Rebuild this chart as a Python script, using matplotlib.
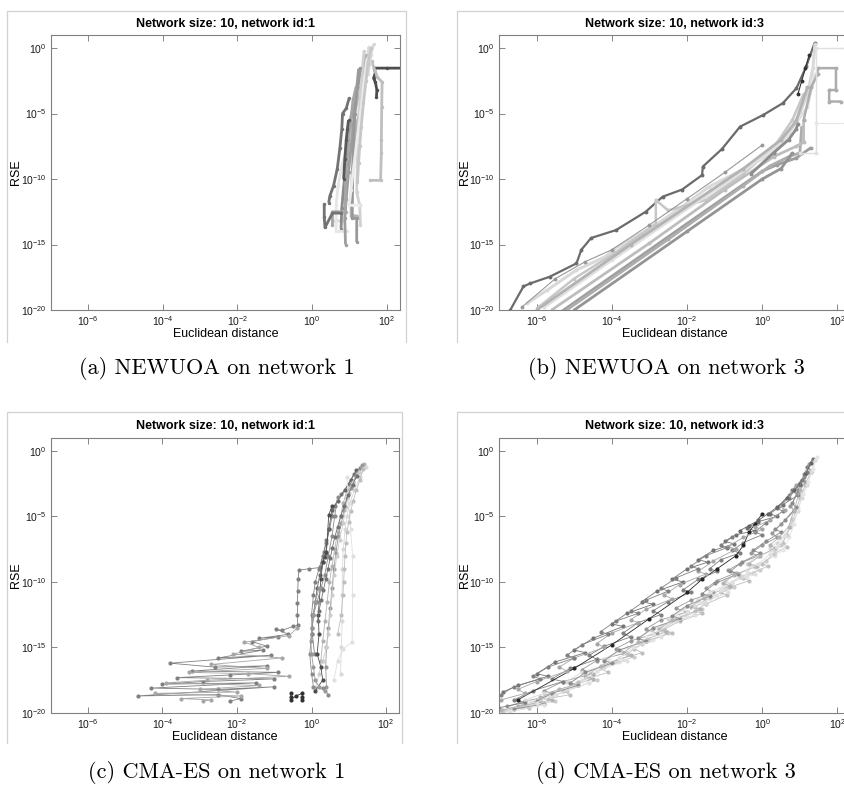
import numpy as np
import matplotlib.pyplot as plt
from matplotlib.lines import Line2D

plt.rcParams['font.family'] = ['Liberation Sans', 'DejaVu Sans']
plt.rcParams['mathtext.fontset'] = 'custom'
plt.rcParams['mathtext.rm'] = 'Liberation Sans'
plt.rcParams['mathtext.it'] = 'Liberation Sans:italic'
plt.rcParams['mathtext.bf'] = 'Liberation Sans:bold'

# axis ticks
x_ticks = [1e-6, 1e-4, 1e-2, 1e0, 1e2]
y_ticks = [1e-20, 1e-15, 1e-10, 1e-5, 1e0]

titles = ['Network size: 10, network id:1', 'Network size: 10, network id:3',
          'Network size: 10, network id:1', 'Network size: 10, network id:3']
captions = ['(a) NEWUOA on network 1', '(b) NEWUOA on network 3',
            '(c) CMA-ES on network 1', '(d) CMA-ES on network 3']

# trajectories as log10(distance), log10(RSE)
newuoa1_lx = [
    [2.45, 2.00, 1.67, 1.70, 1.65, 1.70, 1.74, 1.73],
    [1.60, 1.75, 1.88, 1.87, 1.86, 1.86, 1.84, 1.55],
    [1.52, 1.50, 1.40, 1.25, 1.12, 1.00, 0.92, 0.85, 0.80, 0.60],
    [1.35, 1.28, 1.15, 1.05, 1.00, 0.92, 0.85, 0.80, 0.78],
    [1.00, 0.92, 0.82, 0.80, 0.75, 0.68, 0.58, 0.48, 0.45],
    [1.45, 1.40, 1.30, 1.22, 1.15, 1.08, 1.05, 1.05, 1.20],
    [1.55, 1.45, 1.25, 1.10, 0.95, 0.80, 0.70, 0.65, 0.65, 0.95],
    [1.25, 1.20, 1.12, 1.05, 0.98, 0.92, 0.88, 0.90],
    [1.18, 1.10, 1.02, 0.95, 0.90, 0.90, 0.70, 0.55, 0.55],
    [0.33, 0.33, 0.35, 0.55, 0.78],
    [1.40, 1.35, 1.30, 1.25, 1.22, 1.20, 1.28, 1.30],
    [1.30, 1.22, 1.15, 1.10, 1.08, 1.20, 1.20],
    [0.98, 0.95, 0.92, 0.88, 0.85],
    [1.65, 1.58, 1.55, 1.50],
    [1.48, 1.42, 1.35, 1.28, 1.20, 1.12, 1.05, 1.00, 1.10, 1.25],
    [1.58, 1.50, 1.45, 1.38, 1.32, 1.28, 1.25, 1.22],
]
newuoa1_ly = [
    [-1.53, -1.53, -1.53, -1.90, -2.30, -2.60, -3.20, -3.70],
    [-1.00, -2.20, -2.60, -4.50, -7.00, -8.00, -10.10, -10.10],
    [0.10, -1.00, -2.00, -4.00, -6.00, -8.20, -10.00, -11.50, -13.20, -13.20],
    [-1.60, -2.20, -4.00, -5.20, -6.80, -8.80, -10.60, -12.20, -13.80],
    [-3.80, -4.60, -5.00, -6.20, -7.60, -9.20, -10.50, -11.30, -11.80],
    [-0.50, -1.30, -3.00, -5.00, -7.00, -9.50, -11.50, -12.80, -12.80],
    [-0.20, -2.00, -4.50, -6.00, -7.50, -9.00, -10.50, -12.00, -14.00, -14.00],
    [-1.60, -3.00, -5.50, -7.50, -9.50, -11.50, -13.00, -15.00],
    [-3.00, -4.00, -6.00, -8.00, -10.00, -12.50, -12.50, -12.50, -13.50],
    [-11.90, -12.90, -13.70, -12.60, -12.60],
    [-0.20, -1.50, -3.50, -6.00, -8.50, -11.00, -12.00, -13.50],
    [-1.50, -3.00, -5.00, -8.00, -13.00, -13.00, -14.80],
    [-5.50, -6.20, -7.00, -8.50, -10.00],
    [0.30, -0.50, -1.20, -2.00],
    [-0.80, -2.00, -3.80, -5.50, -7.20, -9.00, -10.80, -12.00, -12.00, -12.00],
    [0.00, -1.20, -2.50, -4.20, -6.00, -7.50, -8.80, -10.20],
]
newuoa1_gray = [0.30, 0.75, 0.85, 0.55, 0.45, 0.70, 0.90, 0.62, 0.65, 0.45, 0.82, 0.60, 0.35, 0.85, 0.92, 0.78]

newuoa3_lx = [
    [-6.70, -6.35, -6.17, -5.65, -4.94, -4.81, -4.55, -3.89, -3.10, -2.65, -2.13, -1.60, -1.58, -1.07, -0.59, 0.03, 0.55, 0.91, 1.17, 1.39],
    [-6.26, -5.73, -4.94, -4.15, -3.97, -2.83, -2.13, -1.42, -0.37, 0.33, 0.70, 1.00, 1.20, 1.35, 1.40],
    [-6.00, -5.00, -4.00, -3.20, -2.83, -2.83, -2.50, -1.50, -0.50, 0.30, 0.80, 1.10],
    [-5.38, -2.00, 0.00, 0.40, 0.90, 1.30],
    [-5.20, -2.50, -0.50, 0.20, 0.70, 1.00, 1.05],
    [-5.60, -3.00, -1.00, 0.30, 0.90, 1.10, 1.10],
    [-5.00, -2.00, 0.00, 0.50, 0.80],
    [-5.80, -4.00, -1.50, 0.00, 0.60, 1.20, 1.40],
    [-6.00, -3.50, -0.50, 0.50, 0.90, 1.20],
    [1.10, 1.30, 1.47, 1.47, 1.96, 1.96, 1.78, 1.78, 2.10],
    [2.20, 1.43, 1.43, 1.00],
    [1.43, 2.20],
    [0.95, 1.05, 1.15, 1.25],
    [-6.40, -5.50, -4.70, -4.00, -3.00, -2.00, -1.00, 0.00],
    [-0.30, 0.30, 0.70, 0.90, 0.95],
]
newuoa3_ly = [
    [-20.0, -18.2, -17.97, -17.46, -16.44, -15.4, -14.5, -13.9, -12.5, -11.35, -10.8, -9.7, -9.05, -7.7, -6.0, -5.1, -4.2, -3.06, -1.4, 0.38],
    [-19.5, -18.5, -16.95, -15.9, -15.4, -13.5, -12.1, -10.6, -9.05, -7.9, -6.5, -5.0, -3.5, -1.5, 0.3],
    [-19.9, -17.6, -15.8, -14.2, -13.4, -11.6, -12.4, -11.6, -9.6, -7.6, -5.5, -3.5],
    [-20.2, -13.4, -9.4, -8.9, -8.4, -7.6],
    [-20.0, -14.6, -10.5, -9.0, -8.3, -8.0, -6.0],
    [-20.0, -14.9, -10.8, -8.3, -7.5, -7.2, -5.5],
    [-20.0, -14.0, -10.0, -9.2, -8.0],
    [-19.8, -16.2, -11.3, -8.4, -7.0, -4.5, -2.0],
    [-20.0, -15.0, -9.2, -7.0, -5.6, -3.0],
    [-5.5, -3.0, -2.0, -1.53, -1.53, -3.2, -3.2, -4.08, -4.08],
    [0.0, 0.0, -8.0, -8.0],
    [-5.7, -5.7],
    [-3.5, -2.5, -1.5, -0.5],
    [-19.8, -17.6, -16.3, -15.4, -13.5, -11.5, -9.5, -7.4],
    [-9.6, -8.0, -7.0, -6.2, -5.8],
]
newuoa3_gray = [0.42, 0.85, 0.78, 0.62, 0.68, 0.74, 0.58, 0.88, 0.70, 0.68, 0.88, 0.90, 0.20, 0.60, 0.55]
newuoa3_lw = [1.6, 2.2, 1.8, 2.0, 2.0, 2.0, 2.0, 2.0, 2.0, 1.8, 1.0, 0.8, 0.8, 0.8, 2.0]

cma1_lx = [
    [0.40, 0.33, 0.24, -0.07, -0.34, -0.36, -0.37, -0.38, -0.38, -0.37, -0.50, -0.80, -0.95, -0.62, -1.40, -0.90, -1.60, -1.20, -1.90, -1.30,
     -2.50, -1.10, -3.80, -2.60, -1.20, -3.20, -0.90, -2.20, -3.60, -1.00, -2.90, -4.00, -1.50, -4.30, -2.50, -1.00, -4.67, -2.50, -1.90, -2.20],
    [-0.38, -0.60, -1.80, -1.40, -2.10, -0.80, -2.70, -1.20, -3.30, -1.70, -0.60, -2.80, -3.90, -1.40, -3.00, -2.00, -4.20, -1.90, -3.50, -2.70, -2.90],
    [1.30, 1.15, 1.00, 0.80, 0.62, 0.55, 0.48, 0.40, 0.30, 0.20, 0.10, 0.05, 0.00, 0.02, 0.08],
    [1.40, 1.25, 1.10, 0.95, 0.85, 0.78, 0.70, 0.62, 0.55, 0.48, 0.42, 0.36, 0.30, 0.25],
    [1.45, 1.30, 1.15, 1.02, 0.95, 0.90, 0.85, 0.83, 0.82, 0.82, 0.80, 0.78],
    [1.20, 1.05, 0.90, 0.70, 0.55, 0.46, 0.38, 0.30, 0.22, 0.15, 0.10, 0.05, 0.02],
    [1.35, 1.20, 1.05, 0.95, 0.88, 0.80, 0.72, 0.65, 0.60, 0.55, 0.50, 0.45, 0.40, 0.38, 0.40],
    [1.28, 1.12, 1.00, 0.92, 0.85, 0.75, 0.68, 0.60, 0.55, 0.50, 0.45, 0.40, 0.30, 0.20, 0.10],
    [0.55, 0.46, 0.40, 0.35, 0.30, 0.25, 0.18, 0.20, 0.15, 0.25, 0.30, 0.10],
    [0.70, 0.62, 0.55, 0.45, 0.35, 0.25, 0.15, 0.05, 0.00, -0.05, 0.00, 0.05, 0.30, 0.45],
    [0.95, 1.00, 1.05, 1.10, 1.10, 1.09, 0.85, 0.70, 0.60],
    [-0.56, -0.56, -0.56, -0.42, -0.25, -0.25, -0.25],
    [1.22, 1.10, 0.98, 0.88, 0.78, 0.70, 0.62, 0.56, 0.50, 0.44, 0.38, 0.32, 0.26, 0.20, 0.16],
    [1.38, 1.30, 1.20, 1.12, 1.05, 1.00, 0.95, 0.92, 0.90, 0.88, 0.86, 0.84, 0.80, 0.70],
    [0.20, 0.10, 0.05, 0.00, -0.02, 0.00, 0.05, 0.10, 0.20, 0.35],
]
cma1_ly = [
    [-6.8, -7.7, -8.9, -9.0, -9.1, -9.8, -10.7, -11.6, -12.5, -13.3, -13.4, -13.7, -13.6, -14.0, -14.3, -14.2, -14.55, -14.9, -15.3, -15.2,
     -15.8, -15.6, -16.2, -16.5, -16.4, -16.8, -16.9, -17.1, -17.3, -17.4, -17.6, -17.8, -17.7, -18.1, -18.2, -18.0, -18.7, -18.6, -18.9, -19.1],
    [-13.5, -14.1, -14.6, -15.0, -15.5, -15.8, -16.3, -16.6, -16.9, -17.0, -17.2, -17.5, -17.7, -17.9, -18.2, -18.4, -18.5, -18.7, -18.9, -19.0, -19.1],
    [-1.3, -1.8, -2.5, -3.3, -4.2, -5.0, -6.0, -7.0, -8.0, -9.0, -10.0, -11.0, -12.5, -14.0, -15.5],
    [-1.0, -1.6, -2.4, -3.0, -4.0, -5.0, -6.2, -7.5, -8.8, -10.0, -11.5, -13.0, -14.5, -16.0],
    [-1.2, -2.0, -3.0, -4.0, -5.0, -6.0, -7.5, -9.0, -11.0, -13.0, -15.0, -17.0],
    [-1.5, -2.2, -3.0, -3.8, -4.5, -6.0, -7.8, -8.5, -9.5, -10.5, -11.5, -12.5, -13.5],
    [-1.1, -1.9, -2.8, -3.6, -4.5, -5.5, -6.5, -7.8, -9.0, -10.5, -12.0, -13.5, -15.0, -16.5, -18.0],
    [-1.6, -2.4, -3.2, -4.3, -5.5, -6.8, -8.0, -9.5, -11.0, -12.5, -14.0, -15.0, -16.0, -17.0, -18.2],
    [-4.2, -4.9, -7.7, -8.1, -8.5, -9.8, -12.5, -14.0, -15.5, -16.5, -17.5, -18.3],
    [-3.5, -5.0, -6.5, -8.0, -9.5, -10.5, -11.5, -12.5, -14.0, -15.5, -17.0, -18.0, -18.1, -18.6],
    [-2.0, -4.0, -6.0, -8.0, -11.0, -14.6, -15.1, -16.0, -17.5],
    [-18.5, -18.8, -19.0, -18.7, -18.5, -18.8, -19.0],
    [-1.9, -2.6, -3.4, -4.2, -5.0, -5.8, -6.6, -7.4, -8.2, -9.0, -9.8, -10.6, -11.4, -12.2, -13.0],
    [-1.4, -2.2, -3.0, -3.8, -4.6, -5.4, -6.2, -7.0, -8.0, -9.0, -10.0, -11.0, -12.5, -14.0],
    [-10.5, -11.5, -12.5, -13.5, -14.5, -15.5, -16.5, -17.5, -18.0, -18.3],
]
cma1_gray = [0.50, 0.65, 0.50, 0.70, 0.85, 0.40, 0.60, 0.80, 0.30, 0.55, 0.88, 0.20, 0.45, 0.75, 0.60]

cma3_lx = [
    [1.35, 1.20, 1.30, 1.05, 0.80, 0.95, 0.55, 0.20, 0.40, -0.10, -0.40, -0.20, -0.70, -1.00, -0.75, -1.30, -1.70, -1.45, -2.00, -2.40,
     -2.10, -2.80, -3.20, -2.90, -3.60, -4.00, -3.70, -4.50, -5.00, -4.70, -5.50, -6.00, -5.70, -6.50, -6.90],
    [1.25, 1.10, 1.15, 0.95, 0.75, 0.85, 0.50, 0.25, 0.40, 0.00, -0.30, -0.10, -0.60, -0.90, -0.70, -1.20, -1.50, -1.30, -1.90, -2.30,
     -2.00, -2.70, -3.10, -2.80, -3.50, -3.90, -3.60, -4.40, -4.80, -4.50, -5.30, -5.80, -5.50, -6.30, -6.80],
    [1.30, 1.15, 1.00, 0.90, 0.75, 0.55, 0.65, 0.30, 0.00, 0.15, -0.25, -0.50, -0.35, -0.85, -1.10, -0.95, -1.50, -1.80, -1.60, -2.20,
     -2.60, -2.40, -3.00, -3.40, -3.20, -3.90, -4.30, -4.10, -4.90, -5.30, -5.10, -5.90, -6.40, -6.20, -6.90],
    [1.40, 1.30, 1.20, 1.05, 0.95, 0.80, 0.60, 0.40, 0.20, 0.30, -0.10, -0.40, -0.20, -0.70, -1.00, -0.80, -1.40, -1.70, -1.50, -2.10,
     -2.50, -2.30, -2.90, -3.30, -3.10, -3.80, -4.20, -4.00, -4.80, -5.20, -5.00, -5.80, -6.30, -6.00, -6.70],
    [1.20, 1.00, 0.70, 0.40, 0.55, 0.10, -0.20, 0.00, -0.50, -0.80, -0.60, -1.10, -1.40, -1.20, -1.70, -2.10, -1.90, -2.50, -2.90, -2.70,
     -3.30, -3.70, -3.50, -4.20, -4.60, -4.40, -5.10, -5.60, -5.30, -6.10, -6.60, -6.30, -7.00],
    [0.00, -0.20, -0.35, -0.50, -0.70, -1.20, -1.60, -2.00, -3.00, -4.00, -5.00, -6.50],
    [1.45, 1.35, 1.22, 1.08, 0.95, 0.85, 0.72, 0.55, 0.35, 0.10, -0.30, -0.60, -0.40, -1.00, -1.40, -1.20, -1.90, -2.30, -2.00, -2.70,
     -3.10, -2.90, -3.60, -4.10, -3.80, -4.60, -5.10, -4.90, -5.70, -6.20, -6.00, -6.80],
    [0.90, 0.70, 0.45, 0.60, 0.20, -0.20, 0.00, -0.50, -0.90, -0.70, -1.30, -1.70, -1.50, -2.20, -2.60, -2.40, -3.10, -3.50, -3.30, -4.00,
     -4.40, -4.20, -5.00, -5.40, -5.20, -6.00, -6.50, -6.30, -6.95],
    [0.80, 0.65, 0.50, 0.30, 0.10, -0.20, -0.05, -0.60, -0.90, -0.75, -1.40, -1.80, -1.60, -2.30, -2.70, -2.50, -3.20, -3.60, -3.40, -4.20,
     -4.60, -4.40, -5.20, -5.70, -5.50, -6.40, -6.90],
    [1.30, 1.15, 1.00, 0.85, 0.65, 0.40, 0.15, -0.10, -0.35, -0.60],
    [1.10, 0.95, 0.80, 0.90, 0.60, 0.35, 0.50, 0.10, -0.25, -0.05, -0.55, -0.85, -0.65, -1.25, -1.60, -1.40, -2.00, -2.40, -2.20, -2.90,
     -3.30, -3.10, -3.80, -4.20, -4.00, -4.70, -5.10, -4.90, -5.60, -6.00, -5.80, -6.60],
    [1.00, 0.85, 0.70, 0.45, 0.20, 0.35, -0.05, -0.35, -0.15, -0.75, -1.05, -0.85, -1.55, -1.90, -1.65, -2.40, -2.75, -2.55, -3.30, -3.70,
     -3.50, -4.30, -4.70, -4.50, -5.40, -5.90, -5.60, -6.50, -6.95],
    [-0.80, -1.10, -0.95, -1.50, -1.90, -1.70, -2.30, -2.70, -2.50, -3.10, -3.50, -3.30, -3.90, -4.30, -4.10, -4.80, -5.20, -5.00, -5.70,
     -6.10, -5.90, -6.60, -6.95],
    [0.60, 0.40, 0.20, -0.10, -0.40, -0.20, -0.80, -1.10, -0.90, -1.60, -2.00, -1.80, -2.50, -2.90, -2.70, -3.40, -3.80, -3.60, -4.40,
     -4.80, -4.60, -5.50, -6.00, -5.80, -6.70],
]
cma3_ly = [
    [-0.6, -1.2, -1.6, -2.2, -3.0, -3.4, -4.1, -4.8, -5.0, -5.4, -5.9, -6.1, -6.4, -6.9, -7.1, -7.6, -8.3, -8.5, -9.0, -9.8,
     -10.0, -10.7, -11.5, -11.7, -12.4, -13.2, -13.4, -14.3, -15.2, -15.4, -16.1, -17.0, -17.2, -17.9, -18.4],
    [-1.0, -1.8, -2.4, -3.2, -4.2, -4.6, -5.6, -6.3, -6.6, -7.2, -7.8, -8.0, -8.6, -9.1, -9.3, -9.9, -10.5, -10.8, -11.4, -12.0,
     -12.3, -12.9, -13.6, -13.9, -14.5, -15.1, -15.4, -16.0, -16.7, -17.0, -17.6, -18.3, -18.6, -19.1, -19.5],
    [-1.5, -2.6, -3.6, -4.6, -5.8, -7.0, -7.3, -7.9, -8.6, -8.8, -9.3, -9.7, -9.9, -10.4, -10.8, -11.0, -11.7, -12.2, -12.4, -13.0,
     -13.6, -13.9, -14.4, -15.1, -15.4, -16.0, -16.6, -16.9, -17.6, -18.3, -18.6, -19.0, -19.4, -19.6, -19.8],
    [-0.7, -1.6, -2.6, -3.6, -4.6, -5.6, -6.4, -7.0, -7.4, -7.6, -8.0, -8.6, -8.8, -9.4, -9.9, -10.1, -10.8, -11.4, -11.6, -12.1,
     -12.8, -13.0, -13.6, -14.3, -14.5, -15.2, -15.9, -16.2, -16.9, -17.6, -17.9, -18.5, -19.0, -19.2, -19.6],
    [-1.6, -2.6, -3.6, -4.4, -4.6, -5.5, -6.2, -6.4, -7.0, -7.6, -7.8, -8.3, -9.0, -9.2, -9.8, -10.6, -10.8, -11.5, -12.2, -12.5,
     -13.1, -13.9, -14.2, -14.9, -15.6, -15.9, -16.6, -17.4, -17.6, -18.3, -19.0, -19.2, -19.6],
    [-4.8, -5.6, -6.2, -7.2, -8.0, -9.0, -9.8, -10.8, -12.8, -14.8, -16.6, -19.0],
    [-0.5, -1.4, -2.4, -3.3, -4.4, -5.6, -6.6, -7.6, -8.0, -8.4, -8.8, -9.4, -9.6, -10.2, -10.9, -11.1, -11.8, -12.5, -12.7, -13.4,
     -14.2, -14.4, -15.0, -15.9, -16.1, -16.8, -17.7, -17.9, -18.6, -19.2, -19.4, -19.8],
    [-2.6, -3.4, -4.2, -4.5, -5.3, -5.8, -6.0, -6.6, -7.3, -7.5, -8.4, -9.2, -9.4, -10.2, -11.0, -11.3, -12.1, -12.9, -13.1, -13.9,
     -14.7, -15.0, -15.8, -16.5, -16.8, -17.6, -18.2, -18.5, -19.0],
    [-5.2, -6.4, -7.2, -7.9, -8.4, -8.9, -9.1, -9.6, -10.2, -10.4, -11.2, -11.9, -12.1, -12.9, -13.7, -13.9, -14.7, -15.5, -15.7, -16.5,
     -17.3, -17.5, -18.3, -18.9, -19.1, -19.5, -19.9],
    [-0.9, -1.8, -2.5, -3.0, -3.6, -4.3, -4.8, -5.3, -5.7, -6.1],
    [-2.0, -3.0, -4.0, -4.3, -5.3, -6.0, -6.2, -6.9, -7.6, -7.8, -8.5, -9.2, -9.4, -10.1, -10.9, -11.1, -11.8, -12.6, -12.8, -13.5,
     -14.3, -14.5, -15.2, -16.0, -16.2, -16.9, -17.7, -17.9, -18.5, -19.1, -19.3, -19.7],
    [-3.0, -4.5, -5.8, -6.6, -7.2, -7.4, -8.0, -8.6, -8.8, -9.5, -10.1, -10.3, -11.2, -11.9, -12.1, -12.9, -13.6, -13.8, -14.6, -15.4,
     -15.6, -16.4, -17.2, -17.4, -18.2, -18.8, -19.0, -19.5, -19.8],
    [-6.6, -7.2, -7.4, -8.0, -8.8, -9.0, -9.7, -10.5, -10.7, -11.4, -12.2, -12.4, -13.0, -13.8, -14.0, -14.8, -15.6, -15.8, -16.5,
     -17.2, -17.4, -18.0, -18.6],
    [-6.5, -7.3, -7.9, -8.6, -9.2, -9.4, -10.0, -10.6, -10.8, -11.6, -12.3, -12.5, -13.3, -14.0, -14.2, -15.0, -15.8, -16.0, -16.8,
     -17.5, -17.7, -18.6, -19.2, -19.4, -19.9],
]
cma3_gray = [0.45, 0.60, 0.75, 0.85, 0.50, 0.15, 0.90, 0.65, 0.80, 0.40, 0.55, 0.70, 0.50, 0.88]


fig = plt.figure(figsize=(8.45, 7.87), dpi=100)
W, H = 845.0, 787.0


def px_box(left, top, right, bottom):
    return [left / W, 1 - bottom / H, (right - left) / W, (bottom - top) / H]


def frame(left, top, right, bottom):
    xs = [left / W, left / W, right / W, right / W]
    ys = [1 - bottom / H, 1 - top / H, 1 - top / H, 1 - bottom / H]
    fig.add_artist(Line2D(xs, ys, transform=fig.transFigure, color='0.82', lw=0.9))


def style_axes(ax, title):
    ax.set_xscale('log')
    ax.set_yscale('log')
    ax.set_xlim(10 ** -7.0, 10 ** 2.36)
    ax.set_ylim(1e-20, 1e1)
    ax.set_xticks(x_ticks)
    ax.set_yticks(y_ticks)
    ax.minorticks_off()
    ax.tick_params(direction='in', length=4, width=0.6, color='0.45', labelsize=7.5,
                   labelcolor='0.1', top=True, right=True, pad=3)
    for s in ax.spines.values():
        s.set_color('0.5')
        s.set_linewidth(0.8)
    ax.set_title(title, fontsize=9, fontweight='bold', pad=6)
    ax.set_xlabel('Euclidean distance', fontsize=9, labelpad=0)
    ax.set_ylabel('RSE', fontsize=9, labelpad=-1)


def draw_lines(ax, lxs, lys, grays, lws, ms):
    for lx, ly, g, lw in zip(lxs, lys, grays, lws):
        ax.plot(np.power(10.0, lx), np.power(10.0, ly), '-', color=str(g), lw=lw,
                marker='o', ms=ms, mew=0, solid_capstyle='butt')


frame(7, 11, 406, 342)
frame(457, 11, 860, 342)
frame(7, 412, 402, 743)
frame(457, 412, 860, 743)

ax_a = fig.add_axes(px_box(50.7, 35, 400, 310))
ax_b = fig.add_axes(px_box(499, 35, 851, 310))
ax_c = fig.add_axes(px_box(50.7, 437.7, 399.5, 713))
ax_d = fig.add_axes(px_box(499, 437.7, 851, 713))

draw_lines(ax_a, newuoa1_lx, newuoa1_ly, newuoa1_gray, [2.0] * len(newuoa1_gray), 2.5)
draw_lines(ax_b, newuoa3_lx, newuoa3_ly, newuoa3_gray, newuoa3_lw, 2.8)
draw_lines(ax_c, cma1_lx, cma1_ly, cma1_gray, [0.6] * len(cma1_gray), 3)
draw_lines(ax_d, cma3_lx, cma3_ly, cma3_gray, [0.6] * len(cma3_gray), 3)

for ax, t in zip([ax_a, ax_b, ax_c, ax_d], titles):
    style_axes(ax, t)

cap_pos = [(217, 368), (666, 368), (217, 772), (666, 772)]
for (cx, cy), c in zip(cap_pos, captions):
    fig.text(cx / W, 1 - cy / H, c, ha='center', va='center', fontsize=16, family='cmr10')

fig.savefig('out.png', dpi=100)
